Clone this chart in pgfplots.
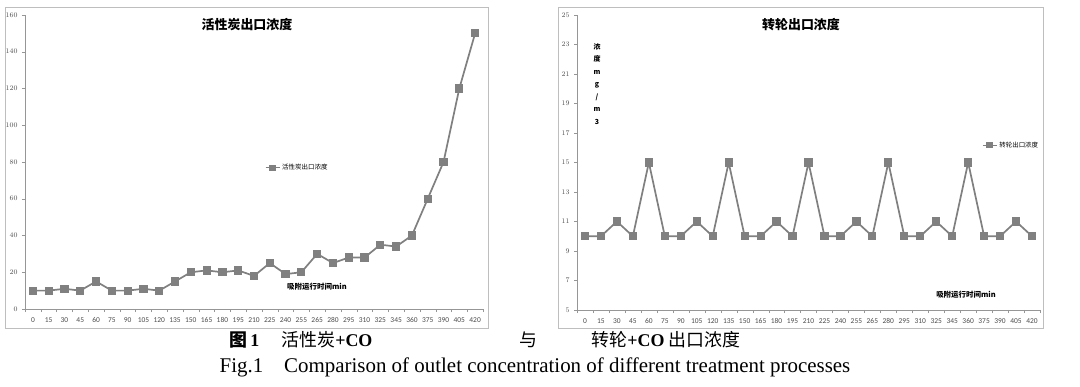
\documentclass[border=0pt]{standalone}
\usepackage{pgfplots}
\pgfplotsset{compat=1.18}
\usepackage{pgfplotstable}
\usepackage{fontspec}
\setmainfont{Liberation Serif}
\newfontfamily\cjk{Noto Sans CJK SC}
\newfontfamily\tickf{Carlito}
\definecolor{linegray}{RGB}{128,128,128}
\definecolor{framegray}{RGB}{190,190,190}
\definecolor{axisgray}{RGB}{150,150,150}

\pgfplotstableread{
x y
0 10
1 10
2 11
3 10
4 15
5 10
6 10
7 11
8 10
9 15
10 20
11 21
12 20
13 21
14 18
15 25
16 19
17 20
18 30
19 25
20 28
21 28
22 35
23 34
24 40
25 60
26 80
27 120
28 150
}\tableA

\pgfplotstableread{
x y
0 10
1 10
2 11
3 10
4 15
5 10
6 10
7 11
8 10
9 15
10 10
11 10
12 11
13 10
14 15
15 10
16 10
17 11
18 10
19 15
20 10
21 10
22 11
23 10
24 15
25 10
26 10
27 11
28 10
}\tableB

\pgfplotsset{
  excel/.style={
    scale only axis, anchor=south west,
    axis x line=bottom, axis y line=left,
    axis line style={axisgray,-},
    tick style={axisgray},
    xmin=-0.5, xmax=28.5,
    xtick={0,...,28},
    xticklabels={0,15,30,45,60,75,90,105,120,135,150,165,180,195,210,225,240,255,265,280,295,310,325,345,360,375,390,405,420},
    major x tick style={draw=none},
    minor xtick={-0.5,0.5,...,28.5},
    tick align=outside,
    major tick length=3bp, minor tick length=3bp,
    ticklabel style={font=\tickf\fontsize{7.5}{8}\selectfont, text=black!70},
    xticklabel style={yshift=-2bp},
    yticklabel style={xshift=-1bp},
    clip=false,
    legend style={draw=none, fill=none, font=\cjk\fontsize{6.5}{7}\selectfont, legend cell align=left, inner sep=0pt},
    legend image code/.code={\draw[linegray,line width=1bp] (0bp,0bp)--(14bp,0bp);
      \fill[linegray] (4.5bp,-2.5bp) rectangle (9.5bp,2.5bp);},
  },
  series/.style={color=linegray, line width=1.7bp, mark=square*, mark size=3.6bp,
    mark options={fill=linegray, draw=linegray, line width=0pt}},
}

\begin{document}
\begin{tikzpicture}[x=1bp,y=1bp]
\useasboundingbox[fill=white] (0,0) rectangle (1080,386);
% frames
\draw[framegray, line width=1bp] (5,58) rectangle (488,378);
\draw[framegray, line width=1bp] (558,58) rectangle (1043,378);

\begin{axis}[excel, at={(25bp,77bp)}, width=458bp, height=294bp,
  ymin=0, ymax=160, ytick={0,20,...,160},
  legend style={at={(0.524,0.48)}, anchor=west}]
\addplot[series] table {\tableA};
\addlegendentry{活性炭出口浓度}
\end{axis}

\begin{axis}[excel, at={(577bp,76bp)}, width=463bp, height=295bp,
  ymin=5, ymax=25, ytick={5,7,...,25},
  legend style={at={(0.875,0.559)}, anchor=west}]
\addplot[series] table {\tableB};
\addlegendentry{转轮出口浓度}
\end{axis}

% titles
\node[font=\cjk\bfseries\fontsize{13}{14}\selectfont] at (247,361) {活性炭出口浓度};
\node[font=\cjk\bfseries\fontsize{13}{14}\selectfont] at (801,361) {转轮出口浓度};
% axis titles
\node[font=\cjk\bfseries\fontsize{7.5}{8}\selectfont] at (317,99) {吸附运行时间min};
\node[font=\cjk\bfseries\fontsize{7.5}{8}\selectfont] at (966,91) {吸附运行时间min};
\node[font=\cjk\bfseries\fontsize{7}{12.5}\selectfont, align=center, inner sep=0pt] at (597,302) {浓\\度\\m\\g\\/\\m\\3};

% caption
\node[anchor=west, font=\fontsize{18}{20}\selectfont] at (226,46) {{\cjk\bfseries 图}\,\textbf{1}};
\node[anchor=west, font=\fontsize{18}{20}\selectfont] at (278,46) {{\cjk 活性炭}\textbf{+CO}};
\node[font=\cjk\fontsize{18}{20}\selectfont] at (528,46) {与};
\node[anchor=west, font=\fontsize{18}{20}\selectfont] at (588,46) {{\cjk 转轮}\textbf{+CO} {\cjk 出口浓度}};
\node[font=\fontsize{21}{22}\selectfont] at (535,19) {Fig.1\quad Comparison of outlet concentration of different treatment processes};
\end{tikzpicture}
\end{document}
